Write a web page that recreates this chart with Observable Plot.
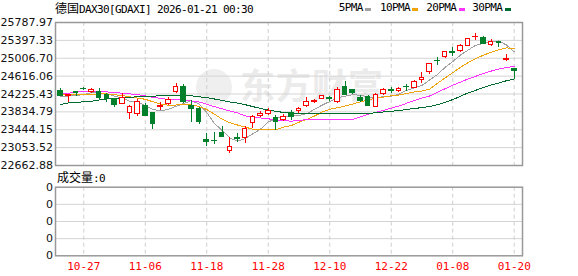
<!DOCTYPE html>
<html><head><meta charset="utf-8">
<script src="https://cdn.jsdelivr.net/npm/d3@7"></script>
<script src="https://cdn.jsdelivr.net/npm/@observablehq/plot@0.6"></script>
<style>
body{margin:0;background:#fff;}
#wrap{position:relative;width:578px;height:276px;overflow:hidden;background:#fff;}
.t{position:absolute;white-space:nowrap;font-family:"DejaVu Sans Mono",monospace;font-size:11px;letter-spacing:-0.62px;line-height:14px;color:#000;}
.cjk{font-family:"Noto Sans CJK SC",sans-serif;font-size:12px;letter-spacing:0;}
.sq{position:absolute;width:6px;height:3px;}
#wm{position:absolute;left:196px;top:64px;font-family:"Noto Sans CJK SC",sans-serif;font-weight:bold;font-size:35px;color:#ebebeb;letter-spacing:1px;line-height:40px;white-space:nowrap;}
#p1,#p2{position:absolute;left:0;}
#p1{top:0;} #p2{top:170px;}
</style></head>
<body><div id="wrap">
<div id="wm"><span style="display:inline-block;width:36px;height:36px;border-radius:50%;background:#efefef;vertical-align:-6px;margin-right:8px"></span>东方财富</div>
<div id="p1"></div><div id="p2"></div>
<div class="t" style="left:55px;top:1px"><span class="cjk">德国</span>DAX30[GDAXI] 2026-01-21 00:30</div>
<div id="legend"></div>
<div class="t" style="left:57px;top:170px"><span class="cjk">成交量</span>:0</div>
</div>
<script>
// ---- data ----
const dates = ["2025-10-22","2025-10-23","2025-10-24","2025-10-27","2025-10-28","2025-10-29","2025-10-30","2025-10-31",
"2025-11-03","2025-11-04","2025-11-05","2025-11-06","2025-11-07","2025-11-10","2025-11-11","2025-11-12","2025-11-13","2025-11-14",
"2025-11-17","2025-11-18","2025-11-19","2025-11-20","2025-11-21","2025-11-24","2025-11-25","2025-11-26","2025-11-27","2025-11-28",
"2025-12-01","2025-12-02","2025-12-03","2025-12-04","2025-12-05","2025-12-08","2025-12-09","2025-12-10","2025-12-11","2025-12-12",
"2025-12-15","2025-12-16","2025-12-17","2025-12-18","2025-12-19","2025-12-22","2025-12-23","2025-12-29","2025-12-30","2026-01-02",
"2026-01-05","2026-01-06","2026-01-07","2026-01-08","2026-01-09","2026-01-12","2026-01-13","2026-01-14","2026-01-15","2026-01-16",
"2026-01-19","2026-01-20"];
const openV = [24295,24177,24269,24341,24280,24280,24193,24112,24011,23815,23793,23974,23806,23937,24003,24265,24389,23974,23893,23231,
23198,23377,22969,23259,23268,23596,23749,23793,23697,23668,23815,23850,23959,24040,24112,24138,24046,24389,24302,24134,
24155,23952,24230,24306,24287,24378,24352,24521,24702,24947,25030,25143,25161,25285,25462,25454,25307,25357,24975,24761];
const highV = [24346,24200,24287,24368,24339,24339,24243,24134,24243,23974,24099,24011,23828,24033,24142,24455,24433,24083,23924,23356,
23377,23515,23281,23369,23515,23756,23850,23902,23756,23777,23865,23937,24142,24112,24199,24171,24374,24499,24324,24193,
24193,24243,24339,24361,24374,24427,24521,24702,24898,25017,25154,25235,25307,25445,25541,25482,25410,25368,25082,24776];
const lowV = [24171,24046,24171,24302,24230,24083,24046,23937,23996,23675,23734,23734,23456,23865,23968,24230,24011,23609,23559,23078,
23115,23281,22932,23165,23150,23465,23718,23756,23428,23625,23646,23806,23937,24011,24099,24068,24011,24193,24214,24046,
23952,23937,24193,24230,24265,24280,24339,24461,24652,24848,25008,25045,25139,25270,25395,25301,25263,25235,24942,24536];
const closeV = [24186,24193,24258,24335,24306,24142,24120,23981,24142,23946,24046,23740,23574,23974,24105,24389,24046,23893,23609,23172,
23188,23281,23078,23246,23465,23718,23784,23858,23603,23718,23718,23893,24040,24077,24171,24127,24302,24214,24252,24083,
23974,24214,24302,24297,24339,24368,24492,24571,24885,24936,25139,25132,25285,25432,25471,25322,25357,25344,24984,24724];
const volumeV = Array(60).fill(0);
const ma5 = [24171,24182,24193,24215,24256,24247,24232,24177,24138,24066,24047,23971,23890,23856,23888,23956,24018,24081,24008,23822,
23582,23429,23266,23193,23252,23358,23458,23614,23686,23736,23736,23758,23794,23889,23980,24062,24143,24178,24213,24196,
24165,24147,24165,24174,24225,24304,24360,24413,24531,24650,24805,24933,25075,25185,25292,25328,25373,25385,25296,25146];
const ma10 = [24215,24215,24215,24215,24219,24225,24228,24210,24193,24164,24136,24110,24055,24009,23981,23985,23989,23989,23952,23887,
23786,23675,23598,23548,23502,23456,23445,23443,23443,23504,23535,23609,23668,23742,23830,23891,23926,23963,24007,24053,
24099,24131,24158,24184,24204,24234,24271,24291,24332,24457,24575,24691,24807,24912,24997,25076,25135,25191,25235,25213];
const ma20 = [24230,24243,24267,24280,24284,24287,24271,24256,24243,24228,24210,24184,24153,24129,24105,24101,24099,24075,24051,24003,
23948,23902,23854,23812,23747,23721,23703,23683,23659,23642,23633,23646,23668,23679,23668,23662,23662,23662,23672,23729,
23784,23823,23867,23915,23963,24022,24081,24136,24182,24263,24339,24416,24483,24555,24612,24673,24726,24770,24805,24826];
const ma30 = [23996,24029,24040,24055,24068,24094,24120,24131,24142,24153,24166,24177,24177,24188,24193,24197,24199,24186,24166,24145,
24116,24086,24051,24027,23992,23950,23909,23874,23845,23823,23806,23806,23804,23799,23797,23793,23793,23793,23793,23793,
23802,23815,23834,23847,23865,23887,23911,23926,23954,23989,24044,24103,24175,24249,24306,24367,24424,24466,24516,24553];
const yTicks = [25787.97,25397.33,25006.70,24616.06,24225.43,23834.79,23444.15,23053.52,22662.88];
const xTickDates = ["10-27","11-06","11-18","11-28","12-10","12-22","01-08","01-20"];
const volTickLabels = ["0","0","0","0","0"];
const maNames = ["5PMA","10PMA","20PMA","30PMA"];
const maColors = ["#a0a0a0","#f0a30a","#ff33ff","#006b2f"];
const upColor = "#ff0000", downColor = "#00802b";

// ---- build ----
const idx = d3.range(dates.length);
const candles = idx.map(i => ({i, open: openV[i], high: highV[i], low: lowV[i], close: closeV[i], up: closeV[i] >= openV[i], vol: volumeV[i]}));
const tickIdx = xTickDates.map(t => dates.findIndex(d => d.slice(5) === t));
const maSeries = [ma5, ma10, ma20, ma30];
const xDomain = [-0.68, 60.08];

const price = Plot.plot({
  width: 578, height: 170,
  marginLeft: 55, marginRight: 56, marginTop: 22, marginBottom: 5,
  style: {background: "transparent", overflow: "visible"},
  x: {domain: xDomain, axis: null},
  y: {domain: [yTicks[yTicks.length-1], yTicks[0]], axis: null},
  color: {type: "identity"},
  marks: [
    Plot.ruleY(yTicks, {stroke: "#d4d4d4", strokeWidth: 1}),
    Plot.ruleX(tickIdx, {stroke: "#cfcfcf", strokeDasharray: "4,3"}),
    ...maSeries.map((s, k) => Plot.line(idx, {x: i => i, y: i => s[i], stroke: maColors[k], strokeWidth: 1, shapeRendering: "crispEdges"})),
    Plot.ruleX(candles, {x: "i", y1: "low", y2: "high", stroke: d => d.up ? upColor : downColor, strokeWidth: 1, shapeRendering: "crispEdges"}),
    Plot.rect(candles, {x1: d => d.i - 0.3, x2: d => d.i + 0.3, y1: d => Math.min(d.open, d.close), y2: d => Math.max(d.open, d.close),
      fill: d => d.up ? "#ffffff" : downColor, stroke: d => d.up ? upColor : downColor, strokeWidth: 1, shapeRendering: "crispEdges"}),
    Plot.frame({stroke: "#999999", strokeWidth: 1.5}),
    Plot.axisY({ticks: yTicks, tickFormat: d => d.toFixed(2), tickSize: 0, tickPadding: 2.5, fontSize: 11, fontFamily: "DejaVu Sans", fill: "#111", label: null})
  ]
});
document.getElementById("p1").appendChild(price);

const vol = Plot.plot({
  width: 578, height: 106,
  marginLeft: 55, marginRight: 56, marginTop: 16.7, marginBottom: 20.7,
  style: {background: "transparent", overflow: "visible"},
  x: {domain: xDomain, axis: null},
  y: {domain: [0, 4], axis: null},
  color: {type: "identity"},
  marks: [
    Plot.ruleY([1, 2, 3], {stroke: "#d4d4d4"}),
    Plot.ruleX(tickIdx, {stroke: "#cfcfcf", strokeDasharray: "4,3"}),
    Plot.rect(candles, {x1: d => d.i - 0.3, x2: d => d.i + 0.3, y1: 0, y2: d => d.vol, fill: d => d.up ? upColor : downColor}),
    Plot.frame({stroke: "#999999", strokeWidth: 1.5}),
    Plot.axisY({ticks: [0, 1, 2, 3, 4], tickFormat: d => volTickLabels[d], tickSize: 0, tickPadding: 2.5, fontSize: 11, fontFamily: "DejaVu Sans", fill: "#111", label: null}),
    Plot.axisX({ticks: tickIdx, tickFormat: i => dates[i].slice(5), tickSize: 0, tickPadding: 6, fontSize: 11, fontFamily: "DejaVu Sans Mono", fill: "#ff0000", style: "letter-spacing:-0.62px", label: null})
  ]
});
document.getElementById("p2").appendChild(vol);

// legend
const legX = [338.7, 380, 426.2, 472.3];
const legend = document.getElementById("legend");
maNames.forEach((n, k) => {
  const t = document.createElement("div");
  t.className = "t"; t.style.left = legX[k] + "px"; t.style.top = "1px"; t.textContent = n;
  legend.appendChild(t);
  const s = document.createElement("div");
  s.className = "sq"; s.style.left = (legX[k] + n.length * 6.6 - n.length*0.62 + 2.5) + "px"; s.style.top = "8px"; s.style.background = maColors[k];
  legend.appendChild(s);
});
</script>
</body></html>
